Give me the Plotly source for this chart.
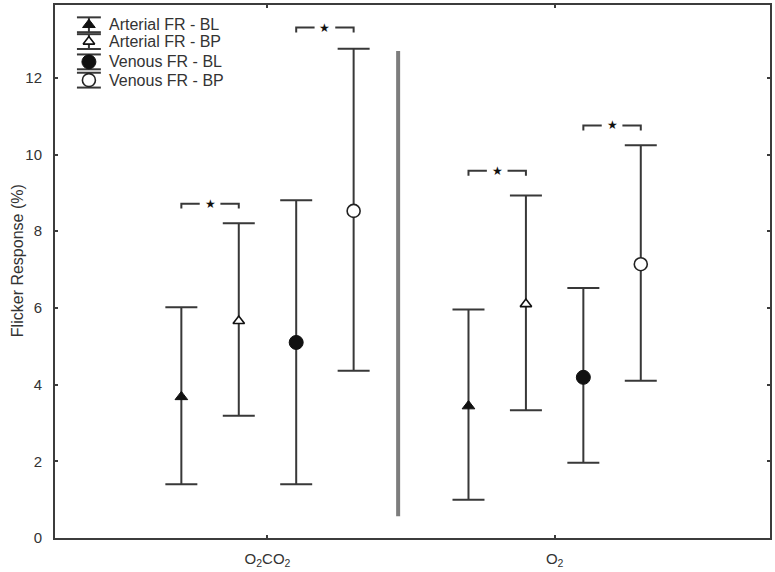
"""Flicker response by gas condition: arterial / venous, baseline vs. BP (Plotly)."""

import plotly.graph_objects as go

# ---- data ----
CONDITIONS = ["O<sub>2</sub>CO<sub>2</sub>", "O<sub>2</sub>"]
SERIES = ["Arterial FR - BL", "Arterial FR - BP", "Venous FR - BL", "Venous FR - BP"]

art_bl_mean = [3.68, 3.44]
art_bl_upper = [6.02, 5.96]
art_bl_lower = [1.40, 1.00]

art_bp_mean = [5.66, 6.10]
art_bp_upper = [8.21, 8.93]
art_bp_lower = [3.19, 3.33]

ven_bl_mean = [5.10, 4.19]
ven_bl_upper = [8.81, 6.52]
ven_bl_lower = [1.40, 1.96]

ven_bp_mean = [8.53, 7.14]
ven_bp_upper = [12.76, 10.24]
ven_bp_lower = [4.36, 4.10]

# significance brackets: (condition index, series a, series b, bracket height)
sig_condition = [0, 0, 1, 1]
sig_series_a = [0, 2, 0, 2]
sig_series_b = [1, 3, 1, 3]
sig_height = [8.72, 13.31, 9.58, 10.76]

# separator between the two conditions
divider_x = 0.455
divider_y = [0.57, 12.70]

# ---- style ----
FONT = "Liberation Sans, Arial, sans-serif"
INK = "#333333"
LINE = "#383838"
OFFSETS = [-0.3, -0.1, 0.1, 0.3]
MARKERS = [
    dict(symbol="triangle-up", size=11, color="#111111", line=dict(color="#111111", width=1)),
    dict(symbol="triangle-up", size=10, color="white", line=dict(color="#111111", width=1.6)),
    dict(symbol="circle", size=14, color="#111111", line=dict(color="#111111", width=1)),
    dict(symbol="circle", size=13, color="white", line=dict(color="#222222", width=1.6)),
]

means = [art_bl_mean, art_bp_mean, ven_bl_mean, ven_bp_mean]
uppers = [art_bl_upper, art_bp_upper, ven_bl_upper, ven_bp_upper]
lowers = [art_bl_lower, art_bp_lower, ven_bl_lower, ven_bp_lower]

fig = go.Figure()

# divider drawn first so it sits under everything
fig.add_trace(go.Scatter(
    x=[divider_x, divider_x], y=divider_y, mode="lines",
    line=dict(color="#7d7d7d", width=4), showlegend=False, hoverinfo="skip",
))

for k, name in enumerate(SERIES):
    xs = [c + OFFSETS[k] for c in range(len(CONDITIONS))]
    fig.add_trace(go.Scatter(
        x=xs, y=means[k], mode="markers", name=name, showlegend=False,
        marker=MARKERS[k],
        error_y=dict(
            type="data", symmetric=False,
            array=[u - m for u, m in zip(uppers[k], means[k])],
            arrayminus=[m - lo for m, lo in zip(means[k], lowers[k])],
            color=LINE, thickness=2, width=16,
        ),
    ))

# significance brackets "[-- * --]"
TICK = 0.13
GAP = 0.036
for c, a, b, h in zip(sig_condition, sig_series_a, sig_series_b, sig_height):
    xa = c + OFFSETS[a]
    xb = c + OFFSETS[b]
    xm = (xa + xb) / 2
    fig.add_trace(go.Scatter(
        x=[xa, xa, xm - GAP, None, xm + GAP, xb, xb],
        y=[h - TICK, h, h, None, h, h, h - TICK],
        mode="lines", line=dict(color=LINE, width=2),
        showlegend=False, hoverinfo="skip",
    ))
    fig.add_annotation(x=xm, y=h, text="★", showarrow=False,
                       font=dict(family="DejaVu Sans", size=12, color="#111111"))

# ---- hand-drawn legend with error-bar glyphs (page pixel coordinates on overlay axes) ----
leg_x = 89
leg_text_x = 107
leg_rows = [23, 40, 60.5, 79]
cap_half = 12
cap_off = 7.5
for k, name in enumerate(SERIES):
    yc = leg_rows[k]
    fig.add_trace(go.Scatter(
        x=[leg_x - cap_half, leg_x + cap_half, None, leg_x, leg_x, None,
           leg_x - cap_half, leg_x + cap_half],
        y=[yc - cap_off, yc - cap_off, None, yc - cap_off, yc + cap_off, None,
           yc + cap_off, yc + cap_off],
        xaxis="x2", yaxis="y2", mode="lines", line=dict(color=LINE, width=2),
        showlegend=False, hoverinfo="skip",
    ))
    fig.add_trace(go.Scatter(
        x=[leg_x], y=[yc], xaxis="x2", yaxis="y2", mode="markers",
        marker=MARKERS[k], showlegend=False, hoverinfo="skip",
    ))
    fig.add_annotation(x=leg_text_x, y=yc, xref="x2", yref="y2", text=name,
                       showarrow=False, xanchor="left", yanchor="middle",
                       font=dict(family=FONT, size=16, color=INK))

# y-axis title
fig.add_annotation(x=-0.066, y=0.52, xref="paper", yref="paper",
                   text="Flicker Response (%)", textangle=-90, showarrow=False,
                   font=dict(family=FONT, size=16, color=INK))

axis_common = dict(
    showline=True, linecolor="#3c3c3c", linewidth=2, mirror="ticks",
    ticks="inside", ticklen=3, tickwidth=2, tickcolor="#3c3c3c",
    showgrid=False, zeroline=False,
    tickfont=dict(family=FONT, size=15, color=INK),
)

fig.update_layout(
    width=775, height=572,
    margin=dict(l=55, r=3, t=3, b=30),
    paper_bgcolor="white", plot_bgcolor="white",
    font=dict(family=FONT, color=INK),
    xaxis=dict(range=[-0.74, 1.75], tickvals=[0, 1], ticktext=CONDITIONS,
               ticklabelstandoff=6, **axis_common),
    yaxis=dict(range=[0, 13.9], tickvals=[0, 2, 4, 6, 8, 10, 12],
               ticklabelstandoff=8, **axis_common),
    xaxis2=dict(overlaying="x", range=[55, 772], visible=False, fixedrange=True),
    yaxis2=dict(overlaying="y", range=[542, 3], visible=False, fixedrange=True),
    showlegend=False,
)

# the page's default 8px body margin would shift the 775x572 figure off the window
fig.write_html(
    "out.html",
    config={"displayModeBar": False},
    post_script="document.body.style.margin = '0';",
)
